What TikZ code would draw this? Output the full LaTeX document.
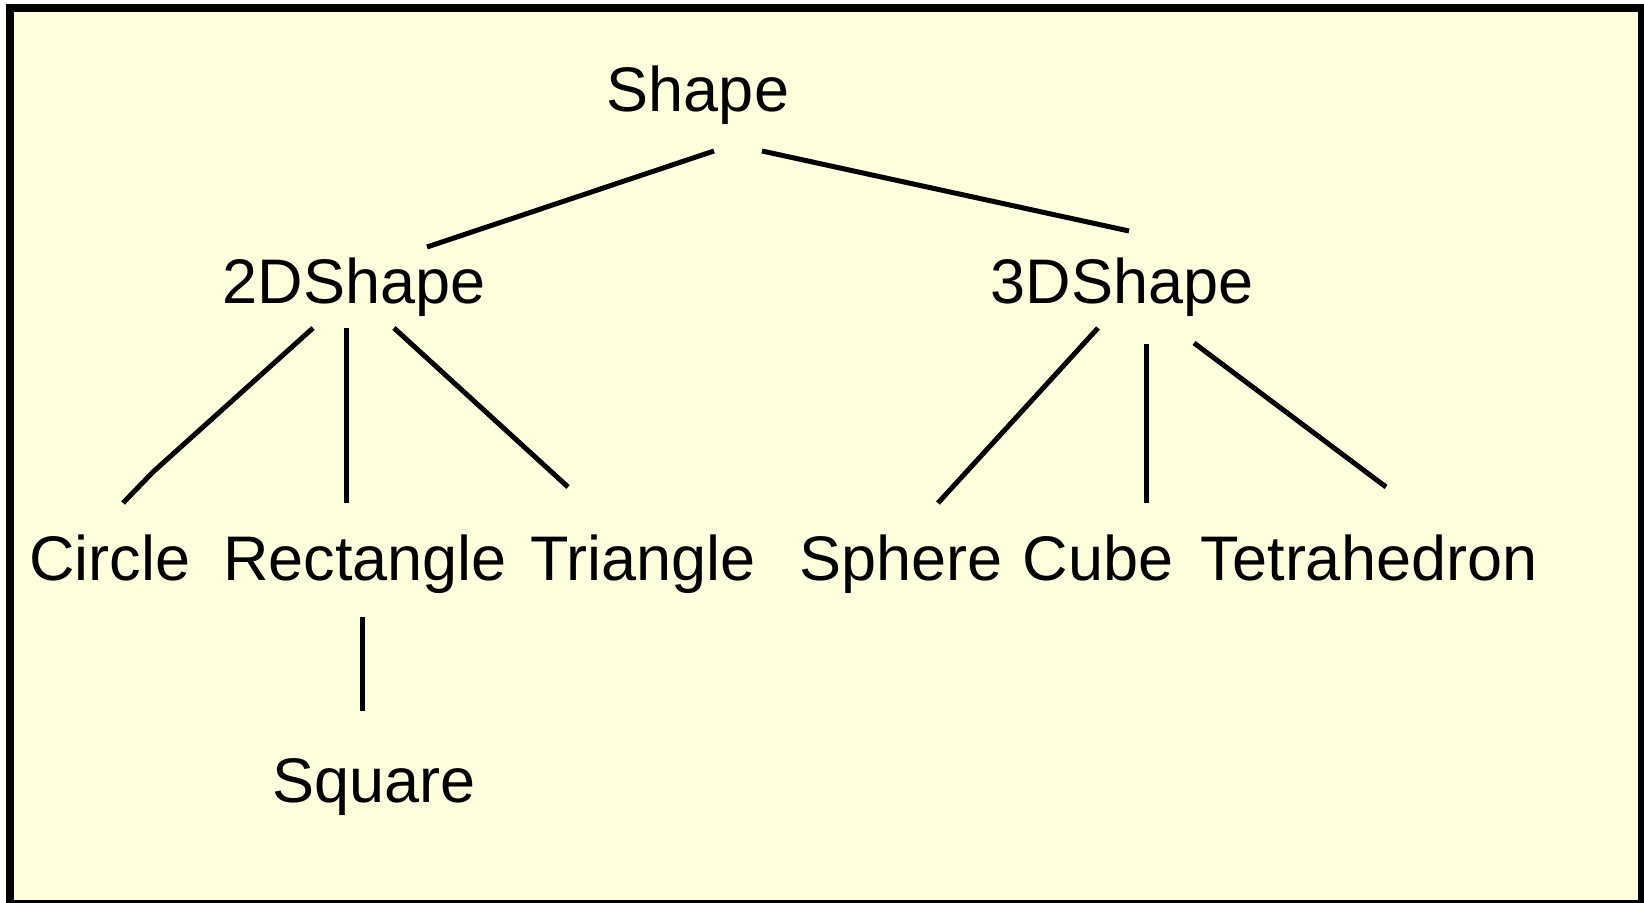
\documentclass[tikz,border=0pt]{standalone}
\usepackage{fontspec}
\setmainfont{Liberation Sans}
\definecolor{bgyellow}{RGB}{255,255,222}
\tikzset{
  lbl/.style={anchor=base, inner sep=0pt, font=\fontsize{31.5}{36}\selectfont},
  edge/.style={line width=2.5pt, line cap=butt, line join=miter}
}
\begin{document}
\begin{tikzpicture}[x=0.5pt, y=-0.5pt]
\useasboundingbox (0,0) rectangle (1644,903);
\fill[white] (0,0) rectangle (1644,903);
\fill[black] (6,4) rectangle (1644,903);
\fill[bgyellow] (14,12) rectangle (1638,900);
% nodes
\node[lbl] (shape) at (698,112) {Shape};
\node[lbl] (d2) at (354,304) {2DShape};
\node[lbl] (d3) at (1122,304) {3DShape};
\node[lbl] (circle) at (110,580) {Circle};
\node[lbl] (rect) at (365,580) {Rectangle};
\node[lbl] (tri) at (643,580) {Triangle};
\node[lbl] (sphere) at (901,580) {Sphere};
\node[lbl] (cube) at (1098,580) {Cube};
\node[lbl] (tetra) at (1369,580) {Tetrahedron};
\node[lbl] (square) at (374,802) {Square};
% connector end points
\coordinate (shape-l) at (714,151);
\coordinate (shape-r) at (762,151);
\coordinate (d2-t) at (427,247);
\coordinate (d3-t) at (1129,231);
\coordinate (d2-bl) at (313,328);
\coordinate (d2-bm) at (346,328);
\coordinate (d2-br) at (394,328);
\coordinate (circle-kink) at (153,472);
\coordinate (circle-t) at (123,503);
\coordinate (rect-t) at (346,503);
\coordinate (tri-t) at (568,487);
\coordinate (d3-bl) at (1098,328);
\coordinate (d3-bm) at (1146,344);
\coordinate (d3-br) at (1194,343);
\coordinate (sphere-t) at (938,503);
\coordinate (cube-t) at (1146,503);
\coordinate (tetra-t) at (1386,487);
\coordinate (rect-b) at (362,617);
\coordinate (square-t) at (362,711);
% connectors
\draw[edge] (shape-l) -- (d2-t);
\draw[edge] (shape-r) -- (d3-t);
\draw[edge] (d2-bl) -- (circle-kink) -- (circle-t);
\draw[edge] (d2-bm) -- (rect-t);
\draw[edge] (d2-br) -- (tri-t);
\draw[edge] (d3-bl) -- (sphere-t);
\draw[edge] (d3-bm) -- (cube-t);
\draw[edge] (d3-br) -- (tetra-t);
\draw[edge] (rect-b) -- (square-t);
\end{tikzpicture}
\end{document}
